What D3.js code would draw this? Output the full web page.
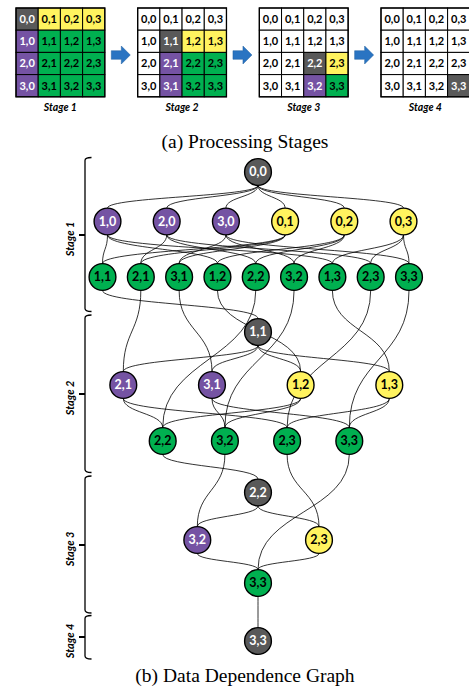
<!DOCTYPE html>
<html><head><meta charset="utf-8">
<script src="https://cdn.jsdelivr.net/npm/d3@7"></script>
<style>
html,body{margin:0;padding:0;background:#fff;}
svg{display:block;}
</style>
</head><body>
<svg id="chart" width="469" height="692"></svg>
<script>
// ---------- DATA ----------
const stageNames = ["Stage 1","Stage 2","Stage 3","Stage 4"];
const gridIdx = [0,1,2,3];
// role codes per stage: K=dark (current), Y=yellow, P=purple, G=green, W=white (done)
const stage1Grid = ["KYYY","PGGG","PGGG","PGGG"];
const stage2Grid = ["WWWW","WKYY","WPGG","WPGG"];
const stage3Grid = ["WWWW","WWWW","WWKY","WWPG"];
const stage4Grid = ["WWWW","WWWW","WWWW","WWWK"];
const stageGrids = [stage1Grid, stage2Grid, stage3Grid, stage4Grid];

// dependence graph rows
const rowLabels = [
  ["0,0"],
  ["1,0","2,0","3,0","0,1","0,2","0,3"],
  ["1,1","2,1","3,1","1,2","2,2","3,2","1,3","2,3","3,3"],
  ["1,1"],
  ["2,1","3,1","1,2","1,3"],
  ["2,2","3,2","2,3","3,3"],
  ["2,2"],
  ["3,2","2,3"],
  ["3,3"],
  ["3,3"]
];
const rowRoles = [
  "K",
  "PPPYYY",
  "GGGGGGGGG",
  "K",
  "PPYY",
  "GGGG",
  "K",
  "PY",
  "G",
  "K"
];
const edgeList = [
  ["0:0,0","1:1,0"],["0:0,0","1:2,0"],["0:0,0","1:3,0"],["0:0,0","1:0,1"],["0:0,0","1:0,2"],["0:0,0","1:0,3"],
  ["1:1,0","2:1,1"],["1:1,0","2:1,2"],["1:1,0","2:1,3"],
  ["1:2,0","2:2,1"],["1:2,0","2:2,2"],["1:2,0","2:2,3"],
  ["1:3,0","2:3,1"],["1:3,0","2:3,2"],["1:3,0","2:3,3"],
  ["1:0,1","2:1,1"],["1:0,1","2:2,1"],["1:0,1","2:3,1"],
  ["1:0,2","2:1,2"],["1:0,2","2:2,2"],["1:0,2","2:3,2"],
  ["1:0,3","2:1,3"],["1:0,3","2:2,3"],["1:0,3","2:3,3"],
  ["2:1,1","3:1,1"],
  ["2:2,1","4:2,1"],["2:3,1","4:3,1"],["2:1,2","4:1,2"],["2:1,3","4:1,3"],
  ["2:2,2","5:2,2"],["2:3,2","5:3,2"],["2:2,3","5:2,3"],["2:3,3","5:3,3"],
  ["3:1,1","4:2,1"],["3:1,1","4:3,1"],["3:1,1","4:1,2"],["3:1,1","4:1,3"],
  ["4:2,1","5:2,2"],["4:2,1","5:2,3"],
  ["4:3,1","5:3,2"],["4:3,1","5:3,3"],
  ["4:1,2","5:2,2"],["4:1,2","5:3,2"],
  ["4:1,3","5:2,3"],["4:1,3","5:3,3"],
  ["5:2,2","6:2,2"],["5:3,2","7:3,2"],["5:2,3","7:2,3"],["5:3,3","8:3,3"],
  ["6:2,2","7:3,2"],["6:2,2","7:2,3"],
  ["7:3,2","8:3,3"],["7:2,3","8:3,3"],
  ["8:3,3","9:3,3"]
];
const bracketStages = ["Stage 1","Stage 2","Stage 3","Stage 4"];

const captionA = "(a) Processing Stages";
const captionB = "(b) Data Dependence Graph";

// ---------- STYLE / LAYOUT ----------
const fill = {K:"#595959", Y:"#fff35f", P:"#7553a3", G:"#00b050", W:"#ffffff"};
const textFill = {K:"#ffffff", Y:"#000", P:"#ffffff", G:"#000", W:"#000"};
const sansFont = "Lato, 'Open Sans', 'DejaVu Sans', sans-serif";

const svg = d3.select("#chart");

// ----- top grids -----
const cellSize = 22.2;
const gridLeft = d3.scalePoint().domain(stageNames).range([16, 381]);
const band = d3.scaleBand().domain(gridIdx).range([0, cellSize*4]);
const gridTop = 8;

stageNames.forEach((name, s) => {
  const g = svg.append("g").attr("transform", `translate(${gridLeft(name)},${gridTop})`);
  const cells = [];
  stageGrids[s].forEach((row, i) => row.split("").forEach((code, j) => cells.push({i, j, code})));
  const cg = g.selectAll("g.cell").data(cells).join("g")
    .attr("transform", d => `translate(${band(d.j)},${band(d.i)})`);
  cg.append("rect").attr("width", band.bandwidth()).attr("height", band.bandwidth())
    .attr("fill", d => fill[d.code]).attr("stroke", "#000").attr("stroke-width", 1);
  cg.append("text").attr("x", band.bandwidth()/2).attr("y", band.bandwidth()/2 + 4)
    .attr("text-anchor", "middle").attr("font-family", sansFont).attr("font-weight", "bold")
    .attr("font-size", 11).attr("fill", d => textFill[d.code])
    .text(d => `${d.i},${d.j}`);
  g.append("rect").attr("width", cellSize*4).attr("height", cellSize*4)
    .attr("fill", "none").attr("stroke", "#000").attr("stroke-width", 1.3);
  svg.append("text").attr("x", gridLeft(name) + cellSize*2).attr("y", 110.5)
    .attr("text-anchor", "middle").attr("font-family", sansFont).attr("font-weight", "bold")
    .attr("font-style", "italic").attr("font-size", 10.5).attr("fill", "#000").text(name);
  if (s < stageNames.length - 1) {
    const ax = gridLeft(name) + cellSize*4 + 6.5, ay = 55;
    const pts = [[ax,ay-4.3],[ax+10,ay-4.3],[ax+10,ay-9],[ax+19,ay],[ax+10,ay+9],[ax+10,ay+4.3],[ax,ay+4.3]];
    svg.append("path").attr("d", d3.line()(pts) + "Z").attr("fill", "#2a74c2")
      .attr("stroke", "#1f5f9f").attr("stroke-width", 0.5);
  }
});

svg.append("text").attr("x", 245).attr("y", 147.5).attr("text-anchor", "middle")
  .attr("font-family", "'Liberation Serif', 'Times New Roman', serif").attr("font-size", 19.5)
  .attr("fill", "#000").text(captionA);

// ----- dependence graph -----
const rowY = [172, 221.5, 277, 332, 385, 441, 492.5, 540, 583, 641];
const rowSpan = [[258,258],[107.5,403.5],[102.5,409],[258,258],[123.3,389.3],[162.7,349.3],[258,258],[197.3,319],[258,258],[258,258]];
const R = 13.4;

const nodes = [];
rowLabels.forEach((labels, r) => {
  const xs = d3.scalePoint().domain(labels).range(rowSpan[r]);
  labels.forEach((lab, k) => nodes.push({id: r + ":" + lab, label: lab, role: rowRoles[r][k], x: xs(lab), y: rowY[r]}));
});
const byId = new Map(nodes.map(n => [n.id, n]));

const link = d3.linkVertical().x(d => d[0]).y(d => d[1]);
svg.append("g").selectAll("path").data(edgeList).join("path")
  .attr("d", ([a, b]) => {
    const s = byId.get(a), t = byId.get(b);
    return link({source: [s.x, s.y + R], target: [t.x, t.y - R]});
  })
  .attr("fill", "none").attr("stroke", "#000").attr("stroke-width", 0.8);

const ng = svg.append("g").selectAll("g").data(nodes).join("g")
  .attr("transform", d => `translate(${d.x},${d.y})`);
ng.append("circle").attr("r", R).attr("fill", d => fill[d.role]).attr("stroke", "#000").attr("stroke-width", 1.4);
ng.append("text").attr("y", 4.3).attr("text-anchor", "middle").attr("font-family", sansFont)
  .attr("font-weight", "bold").attr("font-size", 12.5).attr("fill", d => textFill[d.role]).text(d => d.label);

// ----- stage brackets -----
const bracketTop = d3.scaleOrdinal().domain(bracketStages).range([157.5, 315, 476, 615.5]);
const bracketBottom = d3.scaleOrdinal().domain(bracketStages).range([311.5, 472.5, 613, 659]);
const bracketTick = d3.scaleOrdinal().domain(bracketStages).range([235, 394, 545, 637]);
const bx = 85;
bracketStages.forEach(name => {
  const t = bracketTop(name), b = bracketBottom(name), m = bracketTick(name);
  svg.append("path")
    .attr("d", `M${bx+6.5},${t} Q${bx},${t} ${bx},${t+3} L${bx},${b-3} Q${bx},${b} ${bx+6.5},${b}`)
    .attr("fill", "none").attr("stroke", "#000").attr("stroke-width", 1.3);
  svg.append("line").attr("x1", bx-6).attr("x2", bx).attr("y1", m).attr("y2", m)
    .attr("stroke", "#000").attr("stroke-width", 2);
  svg.append("text").attr("transform", `translate(${bx-11},${m+4}) rotate(-90)`)
    .attr("text-anchor", "middle").attr("font-family", sansFont).attr("font-weight", "bold")
    .attr("font-style", "italic").attr("font-size", 11).attr("fill", "#000").text(name);
});

svg.append("text").attr("x", 245).attr("y", 682).attr("text-anchor", "middle")
  .attr("font-family", "'Liberation Serif', 'Times New Roman', serif").attr("font-size", 19.5)
  .attr("fill", "#000").text(captionB);
</script>
</body></html>
